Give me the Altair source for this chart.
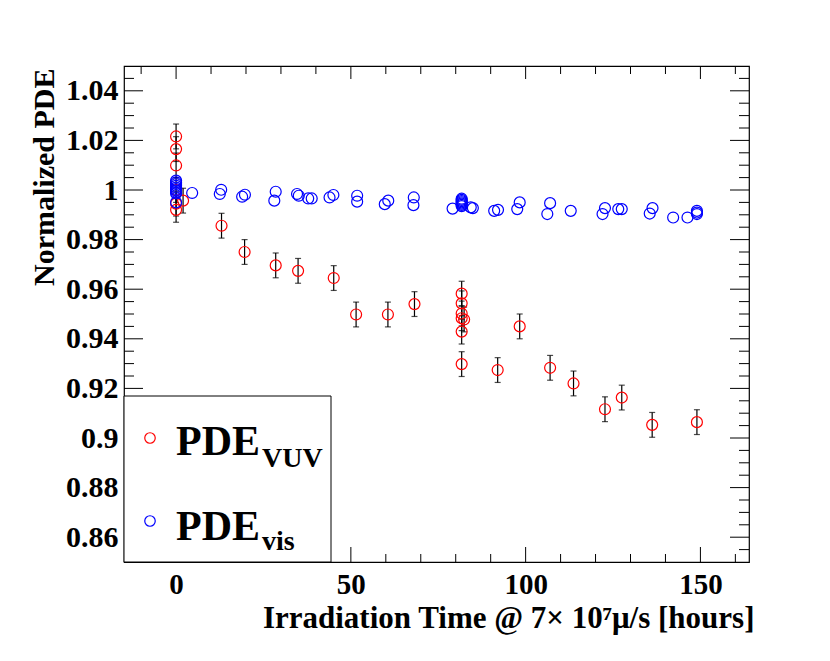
import altair as alt
import pandas as pd

# ---- data ----
vuv_x = [0, 0, 0, 0, 0, 0, 2.0, 13.0, 19.6, 28.5, 34.9, 45.1, 51.5, 60.6, 68.2,
         81.7, 81.7, 81.7, 81.7, 82.4, 81.7, 81.7, 92.0, 98.3, 107.0, 113.7,
         122.7, 127.5, 136.2, 149.0]
vuv_y = [1.0216, 1.0165, 1.0099, 1.0000, 0.9945, 0.9920, 0.9957, 0.9856, 0.9750,
         0.9696, 0.9674, 0.9645, 0.9498, 0.9498, 0.9540, 0.9582, 0.9543, 0.9502,
         0.9483, 0.9478, 0.9429, 0.9298, 0.9274, 0.9450, 0.9283, 0.9220, 0.9116,
         0.9163, 0.9053, 0.9064]
vuv_err = [0.005] * len(vuv_x)

vis_x = [0, 0, 0, 0, 0, 0, 0, 0, 0, 0, 4.6, 12.9, 12.5, 18.9, 19.7, 28.5, 28.1,
         34.6, 35.1, 37.8, 38.8, 43.9, 45.0, 51.8, 51.8, 59.7, 60.7, 68.0, 67.9,
         79.1, 81.7, 81.7, 81.7, 81.7, 81.7, 81.7, 81.7, 84.3, 84.9, 91.0, 92.1,
         97.6, 98.3, 106.2, 107.0, 112.9, 122.0, 122.7, 126.5, 127.5, 135.5, 136.3,
         142.2, 146.3, 149.0, 149.0, 149.0]
vis_y = [1.0038, 1.0031, 1.0024, 1.0017, 1.0010, 1.0004, 0.9998, 0.9992, 0.9986,
         0.9950, 0.9988, 1.0001, 0.9984, 0.9973, 0.9981, 0.9993, 0.9957, 0.9984,
         0.9977, 0.9966, 0.9966, 0.9970, 0.9980, 0.9977, 0.9953, 0.9943, 0.9957,
         0.9970, 0.9939, 0.9925, 0.9965, 0.9960, 0.9955, 0.9950, 0.9945, 0.9940,
         0.9935, 0.9930, 0.9927, 0.9916, 0.9920, 0.9923, 0.9950, 0.9903, 0.9947,
         0.9916, 0.9903, 0.9927, 0.9923, 0.9923, 0.9905, 0.9927, 0.9889, 0.9889,
         0.9916, 0.9909, 0.9903]

x_major = [0, 50, 100, 150]
x_minor = [-10, 10, 20, 30, 40, 60, 70, 80, 90, 110, 120, 130, 140, 160]
y_major = [0.86, 0.88, 0.90, 0.92, 0.94, 0.96, 0.98, 1.00, 1.02, 1.04]
y_minor = [0.855, 0.865, 0.87, 0.875, 0.885, 0.89, 0.895, 0.905, 0.91, 0.915,
           0.925, 0.93, 0.935, 0.945, 0.95, 0.955, 0.965, 0.97, 0.975, 0.985,
           0.99, 0.995, 1.005, 1.01, 1.015, 1.025, 1.03, 1.035, 1.045]

X_DOMAIN = [-14.9, 163.9]
Y_DOMAIN = [0.85, 1.05]
W, H = 625, 496
FONT = "Liberation Serif"

vuv = pd.DataFrame({"t": vuv_x, "pde": vuv_y, "err": vuv_err})
vuv["lo"] = vuv["pde"] - vuv["err"]
vuv["hi"] = vuv["pde"] + vuv["err"]
vis = pd.DataFrame({"t": vis_x, "pde": vis_y})

xs = alt.Scale(domain=X_DOMAIN, nice=False, zero=False)
ys = alt.Scale(domain=Y_DOMAIN, nice=False, zero=False)

x_axis = alt.Axis(values=x_major, ticks=False, tickSize=0, domain=False, grid=False,
                  labelFont=FONT, labelFontWeight="bold", labelFontSize=29,
                  labelColor="black", labelPadding=8,
                  title="Irradiation Time @ 7\u00d7 10\u2077\u03bc/s [hours]",
                  titleFont=FONT, titleFontWeight="bold", titleFontSize=31,
                  titleColor="black", titleX=630, titleY=65, titleAlign="right",
                  titleBaseline="alphabetic", titleAnchor="end")
y_axis = alt.Axis(values=y_major, ticks=False, tickSize=0, domain=False, grid=False,
                  format=".2~f", labelFont=FONT, labelFontWeight="bold",
                  labelFontSize=30, labelColor="black", labelPadding=6,
                  title="Normalized PDE", titleFont=FONT, titleFontWeight="bold",
                  titleFontSize=30, titleColor="black", titleX=-71, titleY=2,
                  titleAngle=270, titleAlign="right", titleBaseline="alphabetic",
                  titleAnchor="end")

X = alt.X("t:Q", scale=xs, axis=x_axis)
Y = alt.Y("pde:Q", scale=ys, axis=y_axis)

bars = alt.Chart(vuv).mark_rule(color="black", strokeWidth=1.2).encode(
    x=alt.X("t:Q", scale=xs), y=alt.Y("lo:Q", scale=ys), y2="hi:Q")
caps_lo = alt.Chart(vuv).mark_tick(color="black", orient="horizontal", size=6,
                                   thickness=1.2).encode(
    x=alt.X("t:Q", scale=xs), y=alt.Y("lo:Q", scale=ys))
caps_hi = alt.Chart(vuv).mark_tick(color="black", orient="horizontal", size=6,
                                   thickness=1.2).encode(
    x=alt.X("t:Q", scale=xs), y=alt.Y("hi:Q", scale=ys))
red = alt.Chart(vuv).mark_point(shape="circle", filled=False, color="#ff0000",
                                size=120, strokeWidth=1.2, opacity=1).encode(x=X, y=Y)
blue = alt.Chart(vis).mark_point(shape="circle", filled=False, color="#0000ff",
                                 size=120, strokeWidth=1.2, opacity=1).encode(
    x=alt.X("t:Q", scale=xs), y=alt.Y("pde:Q", scale=ys))

# tick marks on all four sides (inside the frame)
def yticks(vals, length):
    d = pd.DataFrame({"v": vals})
    left = alt.Chart(d).mark_rule(color="black", strokeWidth=1).encode(
        y=alt.Y("v:Q", scale=ys), x=alt.value(0), x2=alt.value(length))
    right = alt.Chart(d).mark_rule(color="black", strokeWidth=1).encode(
        y=alt.Y("v:Q", scale=ys), x=alt.value(W), x2=alt.value(W - length))
    return left + right

def xticks(vals, lb, lt):
    d = pd.DataFrame({"v": vals})
    bot = alt.Chart(d).mark_rule(color="black", strokeWidth=1).encode(
        x=alt.X("v:Q", scale=xs), y=alt.value(H), y2=alt.value(H - lb))
    top = alt.Chart(d).mark_rule(color="black", strokeWidth=1).encode(
        x=alt.X("v:Q", scale=xs), y=alt.value(0), y2=alt.value(lt))
    return bot + top

ticks = yticks(y_major, 19) + yticks(y_minor, 10) + xticks(x_major, 15, 13) + \
    xticks(x_minor, 8, 8)

# legend box
leg_df = pd.DataFrame({"k": [0]})
leg_box = alt.Chart(leg_df).mark_rect(fill="white", stroke="black",
                                      strokeWidth=1).encode(
    x=alt.value(0), x2=alt.value(207), y=alt.value(330), y2=alt.value(H))
leg_red = alt.Chart(leg_df).mark_point(shape="circle", filled=False, color="#ff0000",
                                       size=110, strokeWidth=1.2, opacity=1).encode(
    x=alt.value(26), y=alt.value(372))
leg_blue = alt.Chart(leg_df).mark_point(shape="circle", filled=False, color="#0000ff",
                                        size=110, strokeWidth=1.2, opacity=1).encode(
    x=alt.value(26), y=alt.value(455))

def txt(s, x, y, size):
    return alt.Chart(leg_df).mark_text(text=s, font=FONT, fontWeight="bold",
                                       fontSize=size, color="black", align="left",
                                       baseline="alphabetic").encode(
        x=alt.value(x), y=alt.value(y))

legend = leg_box + leg_red + leg_blue + txt("PDE", 52, 389, 42) + \
    txt("VUV", 138, 401, 28) + txt("PDE", 52, 474, 42) + txt("vis", 138, 484, 28)

chart = alt.layer(bars, caps_lo, caps_hi, red, blue, ticks, legend).properties(
    width=W, height=H,
    autosize=alt.AutoSizeParams(type="none"),
    padding={"left": 116, "top": 58, "right": 60, "bottom": 80},
    background="white",
).configure_view(stroke="black", strokeWidth=1.2)

chart.save("out.html", embed_options={"renderer": "svg", "actions": False})
